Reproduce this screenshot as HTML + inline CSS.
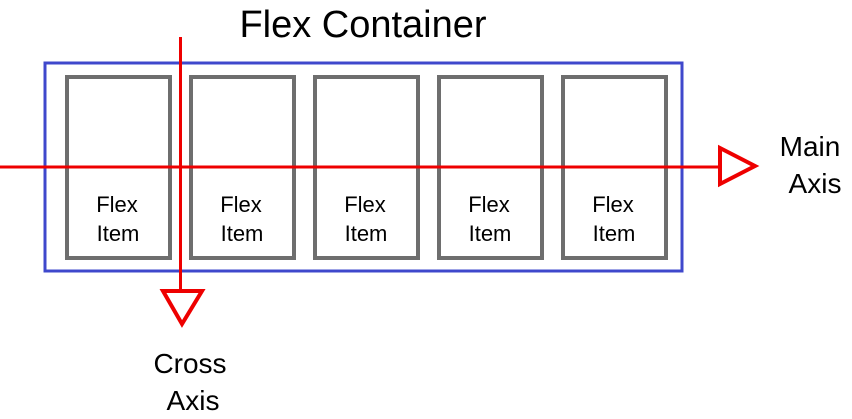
<!DOCTYPE html>
<html><head><meta charset="utf-8"><style>
html,body{margin:0;padding:0;background:#fff;width:852px;height:419px;overflow:hidden}
svg text{font-family:"Liberation Sans","DejaVu Sans",sans-serif;fill:#000}
</style></head><body>
<svg width="852" height="419" viewBox="0 0 852 419">
<text x="363" y="37" font-size="38" text-anchor="middle">Flex Container</text>
<rect x="45" y="63" width="637" height="208" fill="none" stroke="#3f48cc" stroke-width="3"/>
<g><rect x="67" y="77" width="103" height="181" fill="none" stroke="#6e6e6e" stroke-width="4"/><text x="117" y="212" font-size="22" text-anchor="middle">Flex</text><text x="118" y="241" font-size="22" text-anchor="middle">Item</text></g>
<g><rect x="191" y="77" width="103" height="181" fill="none" stroke="#6e6e6e" stroke-width="4"/><text x="241" y="212" font-size="22" text-anchor="middle">Flex</text><text x="242" y="241" font-size="22" text-anchor="middle">Item</text></g>
<g><rect x="315" y="77" width="103" height="181" fill="none" stroke="#6e6e6e" stroke-width="4"/><text x="365" y="212" font-size="22" text-anchor="middle">Flex</text><text x="366" y="241" font-size="22" text-anchor="middle">Item</text></g>
<g><rect x="439" y="77" width="103" height="181" fill="none" stroke="#6e6e6e" stroke-width="4"/><text x="489" y="212" font-size="22" text-anchor="middle">Flex</text><text x="490" y="241" font-size="22" text-anchor="middle">Item</text></g>
<g><rect x="563" y="77" width="103" height="181" fill="none" stroke="#6e6e6e" stroke-width="4"/><text x="613" y="212" font-size="22" text-anchor="middle">Flex</text><text x="614" y="241" font-size="22" text-anchor="middle">Item</text></g>
<g>
<line x1="0" y1="167" x2="720" y2="167" stroke="#ee0000" stroke-width="3"/>
<polygon points="720,148 755,166 720,184" fill="#fff" stroke="#ee0000" stroke-width="4"/>
</g>
<g>
<line x1="180.5" y1="37" x2="180.5" y2="291" stroke="#ee0000" stroke-width="3"/>
<polygon points="163,291 202,291 182,324" fill="#fff" stroke="#ee0000" stroke-width="4"/>
</g>
<g><text x="810" y="156" font-size="28" text-anchor="middle">Main</text><text x="815" y="193" font-size="28" text-anchor="middle">Axis</text></g>
<g><text x="190" y="373" font-size="28" text-anchor="middle">Cross</text><text x="193" y="410" font-size="28" text-anchor="middle">Axis</text></g>
</svg>
</body></html>
